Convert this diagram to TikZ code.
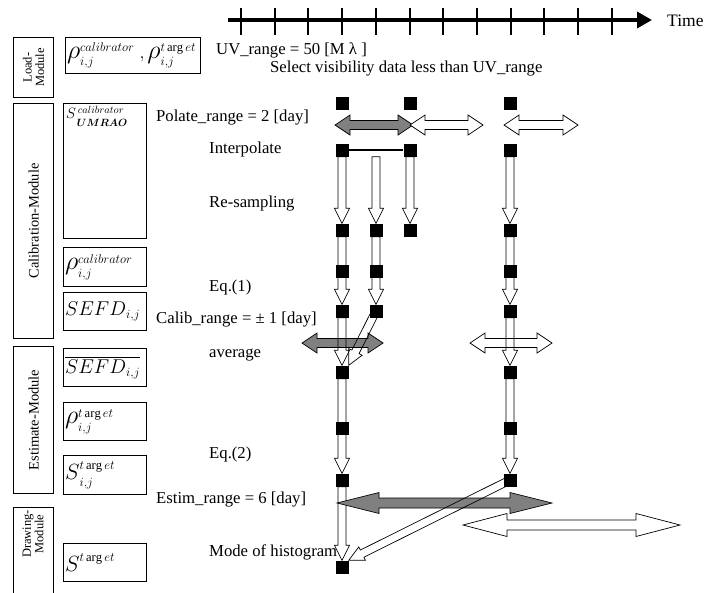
\RequirePackage{fix-cm}
\documentclass[tikz,border=0pt]{standalone}
\usepackage{amsmath,amssymb}
\usepackage{fontspec}
\setmainfont{Liberation Serif}
\usepackage{tikz}
\usetikzlibrary{arrows.meta,calc,backgrounds}
\definecolor{rangeGray}{RGB}{128,128,128}

\newcommand{\bigrho}{\mbox{\fontsize{26}{28}\selectfont$\rho$}}
\newcommand{\bigS}{\mbox{\fontsize{22}{24}\selectfont$S$}}
\newcommand{\lowsub}[2][2pt]{\lower#1\hbox{$\scriptstyle #2$}}

% single block arrow: [fill]{from}{to}
\newcommand{\flowarrow}[3][none]{%
  \path let \p1=(#2), \p2=(#3) in \pgfextra{%
    \pgfmathparse{atan2((\y2)-(\y1),(\x2)-(\x1))}\xdef\arrang{\pgfmathresult}%
    \pgfmathparse{veclen((\x2)-(\x1),(\y2)-(\y1))}\xdef\arrlen{\pgfmathresult}};
  \draw[flowline, fill=#1, shift={(#2)}, rotate=\arrang]
    (0pt,-4pt) -- ({\arrlen pt-15pt},-4pt) -- ({\arrlen pt-15pt},-7.5pt) -- (\arrlen pt,0pt)
    -- ({\arrlen pt-15pt},7.5pt) -- ({\arrlen pt-15pt},4pt) -- (0pt,4pt) -- cycle;}

% double block arrow: [fill]{from}{to}{head length}{head half width}{shaft half width}
\newcommand{\rangearrow}[6][white]{%
  \path let \p1=(#2), \p2=(#3) in \pgfextra{%
    \pgfmathparse{atan2((\y2)-(\y1),(\x2)-(\x1))}\xdef\arrang{\pgfmathresult}%
    \pgfmathparse{veclen((\x2)-(\x1),(\y2)-(\y1))}\xdef\arrlen{\pgfmathresult}};
  \draw[flowline, fill=#1, shift={(#2)}, rotate=\arrang]
    (0pt,0pt) -- (#4,#5) -- (#4,#6) -- ({\arrlen pt-#4},#6) -- ({\arrlen pt-#4},#5)
    -- (\arrlen pt,0pt) -- ({\arrlen pt-#4},-#5) -- ({\arrlen pt-#4},-#6)
    -- (#4,-#6) -- (#4,-#5) -- cycle;}

\tikzset{
  flowline/.style={draw=black, line width=0.7pt, line join=miter},
  sample/.style={fill=black, minimum size=13pt, inner sep=0pt},
  modulebox/.style={draw, line width=1.1pt, minimum width=40pt, inner sep=0pt, anchor=north west},
  modtext/.style={rotate=90, align=center, inner sep=0pt, font=\fontsize{14.5}{15}\selectfont},
  databox/.style={draw, line width=1.1pt, anchor=north west, text width=80pt, inner xsep=1.5pt,
    inner ysep=0pt, align=left, font=\fontsize{18}{20}\selectfont},
  note/.style={anchor=west, inner sep=0pt, text height=11pt, text depth=3.5pt,
    font=\fontsize{16.7}{18}\selectfont},
}

\begin{document}
\begin{tikzpicture}[x=1pt,y=-1pt]
\useasboundingbox (0,0) rectangle (706,592);

\draw[line width=3.5pt, -{Triangle[length=15pt,width=16pt]}] (228,20) -- (652,20);
\foreach \k in {0,...,11}
  \draw[line width=2pt] (241+33.7*\k,8) -- (241+33.7*\k,35);
\node[note, font=\fontsize{17.5}{18}\selectfont] (time) at (667,23) {Time};

\node[modulebox, minimum height=60pt] (loadmod) at (13,37) {};
\node[modtext, font=\fontsize{12.5}{12.5}\selectfont] (loadtxt) at (loadmod.center) {Load-\\Module};
\node[modulebox, minimum height=235pt] (calmod) at (13,103) {};
\node[modtext] (caltxt) at (calmod.center) {Calibration-Module};
\node[modulebox, minimum height=147pt] (estmod) at (13,346) {};
\node[modtext] (esttxt) at (estmod.center) {Estimate-Module};
\node[modulebox, minimum height=95pt] (drawmod) at (13,507) {};
\node[modtext, font=\fontsize{12.5}{12.5}\selectfont] (drawtxt) at (33,534) {Drawing-\\Module};

\node[databox, text width=132pt, minimum height=36pt] (rhobox) at (65,37)
  {$\bigrho^{calibrator}_{\lowsub{i,j}}\;,\bigrho^{t\arg et}_{\lowsub{i,j}}$};
\node[databox, minimum height=135pt] (umrao) at (63,103) {};
\node[anchor=north west, inner sep=3pt, font=\fontsize{15}{16}\selectfont] (umraotxt)
  at (umrao.north west) {$S^{\,calibrator}_{\,\lowsub[4pt]{\boldsymbol{UMRAO}}}$};
\node[databox, minimum height=39pt] (rhocal) at (63,247) {$\bigrho^{calibrator}_{\lowsub{i,j}}$};
\node[databox, minimum height=38pt] (sefd) at (63,292) {$\mbox{\fontsize{20}{22}\selectfont$SEFD$}_{i,j}$};
\node[databox, minimum height=38pt] (sefdbar) at (63,348) {$\overline{\mbox{\fontsize{20}{22}\selectfont$SEFD$}_{i,j}}$};
\node[databox, minimum height=38pt] (rhotgt) at (63,402) {$\bigrho^{t\arg et}_{\lowsub{i,j}}$};
\node[databox, minimum height=39pt] (stgtij) at (63,455) {$\bigS^{t\arg et}_{\lowsub{i,j}}$};
\node[databox, minimum height=38pt] (stgt) at (63,543) {$\bigS^{t\arg et}$};

\node[note] (uvrange) at (216,51) {UV\_range = 50 [M λ ]};
\node[note] (select) at (270,69) {Select visibility data less than UV\_range};
\node[note] (polate) at (156,118) {Polate\_range = 2 [day]};
\node[note] (interp) at (209,150) {Interpolate};
\node[note] (resamp) at (209,204) {Re-sampling};
\node[note] (eqone) at (209,288) {Eq.(1)};
\node[note] (calib) at (156,320) {Calib\_range = ± 1 [day]};
\node[note] (average) at (209,354) {average};
\node[note] (eqtwo) at (209,455) {Eq.(2)};
\node[note] (estim) at (156,500) {Estim\_range = 6 [day]};
\node[note] (mode) at (209,553) {Mode of histogram};

\foreach \y [count=\i] in {103,150,230,271,311,372,428,480,567}
  \node[sample] (a\i) at (342,\y) {};
\foreach \y [count=\i from 3] in {230,271,311}
  \node[sample] (b\i) at (376,\y) {};
\foreach \y [count=\i] in {103,150,230}
  \node[sample] (c\i) at (410,\y) {};
\foreach \y [count=\i] in {103,150,230,271,311,372,428,480}
  \node[sample] (d\i) at (510,\y) {};
\coordinate (btop) at (b3 |- a2.south);
\draw[line width=1.2pt] (a2) -- (c2);

\begin{scope}[on background layer]
  \flowarrow{a8.south}{a9.north}
  \rangearrow[rangeGray]{335,125}{413,125}{15pt}{10pt}{4.5pt}
  \rangearrow{410,125}{483,125}{15pt}{10pt}{4.5pt}
  \rangearrow{504,125}{578,125}{15pt}{10pt}{4.5pt}
  \rangearrow[rangeGray]{302,343}{383,343}{15pt}{10pt}{4.5pt}
  \rangearrow{470,343}{552,343}{15pt}{10pt}{4.5pt}
  \rangearrow[rangeGray]{337,503}{552,503}{42pt}{10.5pt}{5pt}
  \rangearrow{463,525}{680,525}{44pt}{11.5pt}{5pt}
  \foreach \src/\dst in {a2.south/a3.north, a3.south/a5.north, a5.south/a6.north,
      a6.south/a8.north, c2.south/c3.north, btop/b3.north, b3.south/b5.north,
      b5/a6.north east, d2.south/d3.north, d3.south/d5.north, d5.south/d6.north,
      d6.south/d8.north, d8/a9.north east}
    {\flowarrow{\src}{\dst}}
\end{scope}
\end{tikzpicture}
\end{document}
